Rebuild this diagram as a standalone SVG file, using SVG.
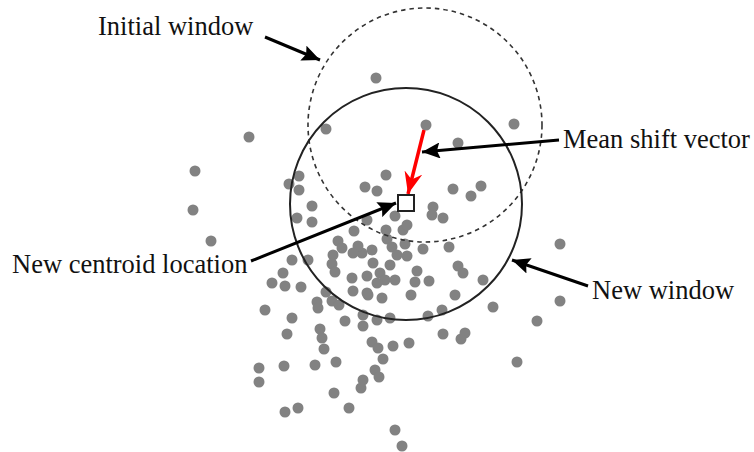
<svg xmlns="http://www.w3.org/2000/svg" width="754" height="452" viewBox="0 0 754 452">
<style>
.dot{fill:#828282}
.lbl{font-family:"Liberation Serif","Times New Roman",serif;font-size:26.5px;fill:#111}
.ptr{stroke:#000;stroke-width:3;fill:none}
</style>
<defs>
<marker id="ah" markerUnits="userSpaceOnUse" markerWidth="20" markerHeight="16" refX="18" refY="8" orient="auto"><path d="M0,0 L18,8 L0,16 L3,8 Z" fill="#000"/></marker>
<marker id="ahr" markerUnits="userSpaceOnUse" markerWidth="24" markerHeight="18" refX="22" refY="9" orient="auto"><path d="M0,0 L22,9 L0,18 L7,9 Z" fill="#ff0000"/></marker>
</defs>
<rect width="754" height="452" fill="#fff"/>
<g id="points">
<circle class="dot" cx="376" cy="78" r="5.5"/><circle class="dot" cx="426" cy="125" r="5.5"/><circle class="dot" cx="514" cy="124" r="5.5"/><circle class="dot" cx="326" cy="129" r="5.5"/><circle class="dot" cx="249" cy="137" r="5.5"/><circle class="dot" cx="458" cy="143" r="5.5"/><circle class="dot" cx="195" cy="171" r="5.5"/><circle class="dot" cx="299" cy="176" r="5.5"/><circle class="dot" cx="386" cy="175" r="5.5"/><circle class="dot" cx="289" cy="184" r="5.5"/><circle class="dot" cx="365" cy="187" r="5.5"/><circle class="dot" cx="377" cy="191" r="5.5"/><circle class="dot" cx="453" cy="189" r="5.5"/><circle class="dot" cx="481" cy="186" r="5.5"/><circle class="dot" cx="299" cy="190" r="5.5"/><circle class="dot" cx="471" cy="196" r="5.5"/><circle class="dot" cx="193" cy="210" r="5.5"/><circle class="dot" cx="312" cy="206" r="5.5"/><circle class="dot" cx="297" cy="218" r="5.5"/><circle class="dot" cx="312" cy="222" r="5.5"/><circle class="dot" cx="433" cy="207" r="5.5"/><circle class="dot" cx="432" cy="215" r="5.5"/><circle class="dot" cx="443" cy="218" r="5.5"/><circle class="dot" cx="367" cy="220" r="5.5"/><circle class="dot" cx="395" cy="216" r="5.5"/><circle class="dot" cx="211" cy="241" r="5.5"/><circle class="dot" cx="354" cy="231" r="5.5"/><circle class="dot" cx="386" cy="230" r="5.5"/><circle class="dot" cx="403" cy="230" r="5.5"/><circle class="dot" cx="407" cy="225" r="5.5"/><circle class="dot" cx="387" cy="239" r="5.5"/><circle class="dot" cx="392" cy="247" r="5.5"/><circle class="dot" cx="405" cy="244" r="5.5"/><circle class="dot" cx="423" cy="249" r="5.5"/><circle class="dot" cx="449" cy="247" r="5.5"/><circle class="dot" cx="372" cy="250" r="5.5"/><circle class="dot" cx="362" cy="253" r="5.5"/><circle class="dot" cx="373" cy="263" r="5.5"/><circle class="dot" cx="397" cy="255" r="5.5"/><circle class="dot" cx="407" cy="256" r="5.5"/><circle class="dot" cx="390" cy="265" r="5.5"/><circle class="dot" cx="367" cy="276" r="5.5"/><circle class="dot" cx="380" cy="273" r="5.5"/><circle class="dot" cx="385" cy="280" r="5.5"/><circle class="dot" cx="377" cy="283" r="5.5"/><circle class="dot" cx="395" cy="280" r="5.5"/><circle class="dot" cx="417" cy="271" r="5.5"/><circle class="dot" cx="415" cy="282" r="5.5"/><circle class="dot" cx="429" cy="281" r="5.5"/><circle class="dot" cx="458" cy="266" r="5.5"/><circle class="dot" cx="463" cy="273" r="5.5"/><circle class="dot" cx="483" cy="280" r="5.5"/><circle class="dot" cx="560" cy="244" r="5.5"/><circle class="dot" cx="560" cy="301" r="5.5"/><circle class="dot" cx="368" cy="295" r="5.5"/><circle class="dot" cx="382" cy="298" r="5.5"/><circle class="dot" cx="411" cy="295" r="5.5"/><circle class="dot" cx="455" cy="295" r="5.5"/><circle class="dot" cx="493" cy="307" r="5.5"/><circle class="dot" cx="442" cy="310" r="5.5"/><circle class="dot" cx="428" cy="316" r="5.5"/><circle class="dot" cx="363" cy="315" r="5.5"/><circle class="dot" cx="377" cy="320" r="5.5"/><circle class="dot" cx="390" cy="318" r="5.5"/><circle class="dot" cx="537" cy="321" r="5.5"/><circle class="dot" cx="443" cy="334" r="5.5"/><circle class="dot" cx="465" cy="333" r="5.5"/><circle class="dot" cx="461" cy="339" r="5.5"/><circle class="dot" cx="409" cy="343" r="5.5"/><circle class="dot" cx="393" cy="346" r="5.5"/><circle class="dot" cx="372" cy="342" r="5.5"/><circle class="dot" cx="378" cy="348" r="5.5"/><circle class="dot" cx="383" cy="359" r="5.5"/><circle class="dot" cx="375" cy="370" r="5.5"/><circle class="dot" cx="379" cy="377" r="5.5"/><circle class="dot" cx="517" cy="362" r="5.5"/><circle class="dot" cx="395" cy="430" r="5.5"/><circle class="dot" cx="402" cy="446" r="5.5"/>
<circle class="dot" cx="338" cy="241" r="5.5"/><circle class="dot" cx="342" cy="248" r="5.5"/><circle class="dot" cx="333" cy="255" r="5.5"/><circle class="dot" cx="358" cy="246" r="5.5"/><circle class="dot" cx="353" cy="253" r="5.5"/><circle class="dot" cx="292" cy="260" r="5.5"/><circle class="dot" cx="308" cy="260" r="5.5"/><circle class="dot" cx="332" cy="264" r="5.5"/><circle class="dot" cx="335" cy="272" r="5.5"/><circle class="dot" cx="283" cy="273" r="5.5"/><circle class="dot" cx="272" cy="283" r="5.5"/><circle class="dot" cx="285" cy="286" r="5.5"/><circle class="dot" cx="301" cy="287" r="5.5"/><circle class="dot" cx="352" cy="278" r="5.5"/><circle class="dot" cx="353" cy="291" r="5.5"/><circle class="dot" cx="367" cy="293" r="5.5"/><circle class="dot" cx="326" cy="292" r="5.5"/><circle class="dot" cx="317" cy="302" r="5.5"/><circle class="dot" cx="318" cy="308" r="5.5"/><circle class="dot" cx="332" cy="301" r="5.5"/><circle class="dot" cx="339" cy="305" r="5.5"/><circle class="dot" cx="265" cy="310" r="5.5"/><circle class="dot" cx="292" cy="318" r="5.5"/><circle class="dot" cx="345" cy="321" r="5.5"/><circle class="dot" cx="363" cy="326" r="5.5"/><circle class="dot" cx="287" cy="334" r="5.5"/><circle class="dot" cx="320" cy="329" r="5.5"/><circle class="dot" cx="322" cy="338" r="5.5"/><circle class="dot" cx="324" cy="349" r="5.5"/><circle class="dot" cx="259" cy="368" r="5.5"/><circle class="dot" cx="284" cy="366" r="5.5"/><circle class="dot" cx="315" cy="365" r="5.5"/><circle class="dot" cx="336" cy="362" r="5.5"/><circle class="dot" cx="259" cy="382" r="5.5"/><circle class="dot" cx="363" cy="380" r="5.5"/><circle class="dot" cx="361" cy="388" r="5.5"/><circle class="dot" cx="334" cy="393" r="5.5"/><circle class="dot" cx="285" cy="412" r="5.5"/><circle class="dot" cx="298" cy="408" r="5.5"/><circle class="dot" cx="349" cy="408" r="5.5"/>
</g>
<g id="initial-window"><circle cx="425" cy="125" r="117" fill="none" stroke="#333" stroke-width="1.6" stroke-dasharray="4.5 4"/></g>
<g id="new-window"><circle cx="406" cy="204" r="116" fill="none" stroke="#222" stroke-width="2"/></g>
<g id="connectors">
<line class="ptr" x1="265" y1="37" x2="320" y2="60" marker-end="url(#ah)"/>
<line class="ptr" x1="559" y1="140" x2="422" y2="152" marker-end="url(#ah)"/>
<line class="ptr" x1="251" y1="261" x2="396" y2="203" marker-end="url(#ah)"/>
<line class="ptr" x1="588" y1="286" x2="512" y2="260" marker-end="url(#ah)"/>
<line x1="424" y1="130" x2="408" y2="194" stroke="#ff0000" stroke-width="3.5" marker-end="url(#ahr)"/>
</g>
<g id="centroid"><rect x="398" y="195" width="16" height="16" fill="#fff" stroke="#222" stroke-width="2"/></g>
<g id="labels">
<text class="lbl" x="98" y="35">Initial window</text>
<text class="lbl" x="563" y="148">Mean shift vector</text>
<text class="lbl" x="12" y="273">New centroid location</text>
<text class="lbl" x="592" y="299">New window</text>
</g>
</svg>
